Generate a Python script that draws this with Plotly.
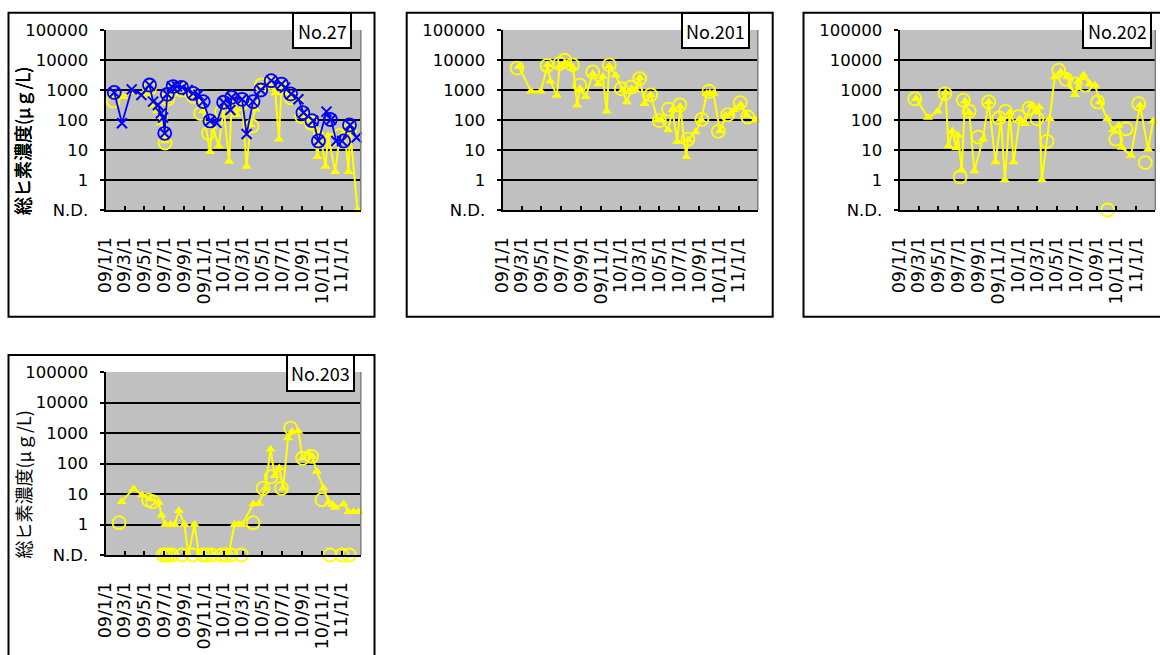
import plotly.graph_objects as go

W, H = 1160, 655
FONT = "Noto Sans CJK JP"
NUM_FONT = "DejaVu Sans"

# ---------------- data: total arsenic concentration (µg/L), N.D. plotted at 0.1 ----------------
# No.27 - yellow series (triangles joined by a line, circles on their own)
no27_tri_dates = ["2009-01-28", "2009-02-25", "2009-03-25", "2009-04-25", "2009-05-17", "2009-05-30",
                  "2009-06-10", "2009-06-22", "2009-07-04", "2009-07-12", "2009-07-25", "2009-08-10",
                  "2009-08-26", "2009-09-14", "2009-09-29", "2009-10-15", "2009-10-30", "2009-11-20",
                  "2009-11-27", "2009-12-17", "2010-01-01", "2010-01-18", "2010-01-26", "2010-02-10",
                  "2010-02-27", "2010-03-13", "2010-03-25", "2010-04-10", "2010-04-26", "2010-05-13",
                  "2010-05-28", "2010-06-10", "2010-06-21", "2010-06-29", "2010-07-15", "2010-07-29",
                  "2010-08-20", "2010-09-05", "2010-09-25", "2010-10-05", "2010-10-18", "2010-10-25",
                  "2010-11-12", "2010-11-20", "2010-12-12", "2010-12-25", "2011-01-10", "2011-01-22",
                  "2011-01-27", "2011-02-19"]
no27_tri_vals = [560, 600, 850, 650, 900, 300,
                 200, 80, 20, 450, 900, 1000,
                 900, 700, 600, 500, 200, 8.7,
                 60, 13.5, 250, 4.1, 400, 150,
                 400, 2.8, 70, 230, 1500, 1500,
                 1300, 800, 23, 1300, 800, 500,
                 500, 130, 100, 60, 6.0, 40,
                 2.8, 30, 1.9, 25, 40, 1.9,
                 45, 0.1]
no27_cir_dates = ["2009-01-25", "2009-05-17", "2009-07-04", "2009-07-12", "2009-07-28", "2009-08-24",
                  "2009-09-29", "2009-10-22", "2009-11-15", "2009-12-26", "2010-01-22", "2010-02-25",
                  "2010-03-30", "2010-04-28", "2010-05-28", "2010-06-25", "2010-07-27", "2010-08-30",
                  "2010-09-29", "2010-11-26", "2010-12-25", "2011-01-25"]
no27_cir_vals = [430, 1100, 17, 500, 1000, 1000,
                 620, 165, 36, 190, 400, 350,
                 63, 1470, 1600, 1200, 550, 130,
                 78, 21, 30, 45]
# No.27 - blue series (crosses joined by a line, circles on their own)
no27_x_dates = ["2009-01-28", "2009-02-21", "2009-03-23", "2009-04-22", "2009-05-17", "2009-05-28",
                "2009-06-12", "2009-06-21", "2009-06-28", "2009-07-03", "2009-07-11", "2009-07-25",
                "2009-08-10", "2009-08-26", "2009-09-12", "2009-09-29", "2009-10-15", "2009-10-30",
                "2009-11-20", "2009-12-10", "2010-01-01", "2010-01-22", "2010-01-26", "2010-02-27",
                "2010-03-13", "2010-04-02", "2010-04-26", "2010-05-28", "2010-06-29", "2010-07-10",
                "2010-07-29", "2010-08-20", "2010-09-05", "2010-10-05", "2010-10-21", "2010-11-15",
                "2010-11-29", "2010-12-15", "2011-01-02", "2011-01-27", "2011-02-16"]
no27_x_vals = [830, 78, 1050, 680, 1470, 410,
               316, 166, 120, 36, 720, 1300,
               1300, 1200, 1000, 770, 700, 410,
               93, 80, 390, 215, 570, 490,
               34, 410, 1000, 2050, 1580, 1200,
               740, 490, 175, 95, 20, 190,
               104, 20, 20, 68, 26]
no27_bcir_dates = ["2009-01-28", "2009-05-17", "2009-07-03", "2009-07-11", "2009-07-29", "2009-08-24",
                   "2009-09-29", "2009-10-30", "2009-11-20", "2010-01-01", "2010-01-26", "2010-02-27",
                   "2010-04-02", "2010-04-26", "2010-05-28", "2010-06-29", "2010-07-27", "2010-09-03",
                   "2010-10-01", "2010-10-21", "2010-11-27", "2011-01-07", "2011-01-25"]
no27_bcir_vals = [830, 1470, 36, 720, 1300, 1230,
                  770, 410, 93, 390, 570, 490,
                  410, 1000, 2050, 1580, 740, 175,
                  95, 20, 104, 20, 68]

# No.201
no201_tri_dates = ["2009-02-21", "2009-03-30", "2009-04-29", "2009-05-21", "2009-05-29", "2009-06-18",
                   "2009-06-27", "2009-07-12", "2009-07-27", "2009-08-07", "2009-08-20", "2009-08-28",
                   "2009-09-15", "2009-10-07", "2009-10-24", "2009-11-07", "2009-11-19", "2009-11-27",
                   "2009-12-17", "2010-01-07", "2010-01-20", "2010-02-04", "2010-02-16", "2010-03-01",
                   "2010-03-16", "2010-04-04", "2010-04-25", "2010-05-07", "2010-05-28", "2010-06-10",
                   "2010-06-25", "2010-07-04", "2010-07-23", "2010-07-28", "2010-08-21", "2010-09-07",
                   "2010-09-24", "2010-10-04", "2010-10-15", "2010-11-04", "2010-11-22", "2010-12-07",
                   "2010-12-19", "2011-01-07", "2011-01-26", "2011-02-22"]
no201_tri_vals = [5900, 900, 900, 6900, 1950, 660,
                  6300, 7900, 7100, 5600, 310, 1100,
                  590, 3500, 1600, 2800, 195, 6300,
                  3100, 1000, 400, 1100, 1000, 2500,
                  350, 700, 100, 100, 46, 220,
                  19, 280, 5.9, 22, 40, 100,
                  760, 800, 760, 43, 140, 160,
                  220, 320, 140, 100]
no201_cir_dates = ["2009-02-15", "2009-05-19", "2009-06-27", "2009-07-12", "2009-08-05", "2009-08-28",
                   "2009-10-07", "2009-11-27", "2010-01-03", "2010-02-03", "2010-03-01", "2010-04-04",
                   "2010-05-01", "2010-05-29", "2010-07-03", "2010-07-28", "2010-09-09", "2010-10-01",
                   "2010-10-30", "2010-11-28", "2011-01-06", "2011-01-29"]
no201_cir_vals = [5400, 6600, 7600, 9800, 6900, 1450,
                  4000, 6900, 1100, 1260, 2400, 690,
                  95, 230, 320, 23, 105, 910,
                  42, 150, 380, 126]

# No.202
no202_tri_dates = ["2009-02-21", "2009-03-30", "2009-04-29", "2009-05-23", "2009-06-01", "2009-06-13",
                   "2009-06-25", "2009-06-30", "2009-07-12", "2009-07-22", "2009-08-04", "2009-08-20",
                   "2009-09-15", "2009-10-03", "2009-10-24", "2009-11-10", "2009-11-22", "2009-12-07",
                   "2009-12-19", "2010-01-07", "2010-01-23", "2010-02-10", "2010-02-24", "2010-03-08",
                   "2010-03-16", "2010-04-09", "2010-04-25", "2010-05-13", "2010-06-02", "2010-06-26",
                   "2010-07-06", "2010-07-23", "2010-08-10", "2010-08-27", "2010-09-11", "2010-10-04",
                   "2010-10-22", "2010-11-08", "2010-11-18", "2010-12-16", "2011-01-13", "2011-02-07",
                   "2011-02-22"]
no202_tri_vals = [510, 120, 195, 810, 13.5, 42,
                  11.7, 31, 2.1, 430, 175, 2.0,
                  23, 400, 4.0, 110, 1.0, 175,
                  4.0, 110, 75, 310, 185, 270,
                  1.0, 110, 2700, 4000, 2700, 690,
                  1850, 3100, 1600, 1450, 400, 110,
                  46, 66, 12, 6.6, 310, 10.5,
                  91]
no202_cir_dates = ["2009-02-17", "2009-05-21", "2009-07-07", "2009-07-17", "2009-08-04", "2009-09-01",
                   "2009-10-03", "2009-11-04", "2009-11-24", "2010-01-03", "2010-02-05", "2010-03-01",
                   "2010-04-01", "2010-05-07", "2010-05-29", "2010-06-26", "2010-07-28", "2010-09-04",
                   "2010-10-05", "2010-10-30", "2010-12-01", "2011-01-09", "2011-01-29"]
no202_cir_vals = [510, 760, 1.26, 460, 195, 27,
                  400, 117, 195, 130, 250, 110,
                  19.5, 4600, 2300, 1600, 1450, 400,
                  0.1, 23, 51, 350, 3.8]

# No.203
no203_tri_dates = ["2009-02-20", "2009-03-29", "2009-04-24", "2009-05-17", "2009-06-15", "2009-06-23",
                   "2009-07-05", "2009-07-21", "2009-08-03", "2009-08-16", "2009-09-02", "2009-09-14",
                   "2009-10-03", "2009-10-17", "2009-11-05", "2009-12-01", "2010-01-01", "2010-01-16",
                   "2010-02-04", "2010-02-16", "2010-02-27", "2010-04-03", "2010-04-20", "2010-05-10",
                   "2010-05-26", "2010-06-08", "2010-06-22", "2010-07-04", "2010-07-19", "2010-08-01",
                   "2010-08-20", "2010-09-02", "2010-09-20", "2010-10-02", "2010-10-16", "2010-11-06",
                   "2010-11-22", "2010-12-03", "2010-12-12", "2011-01-07", "2011-01-22", "2011-02-07",
                   "2011-02-22"]
no203_tri_vals = [5.6, 15, 9.3, 6.8, 5.3, 2.0,
                  1.0, 1.0, 1.0, 2.8, 1.0, 0.1,
                  1.0, 0.1, 0.1, 0.1, 0.1, 0.1,
                  1.0, 1.0, 1.0, 4.7, 4.9, 15.5,
                  295, 40, 71, 15.5, 680, 1120,
                  1120, 150, 220, 170, 55, 15.5,
                  5.3, 4.4, 3.6, 4.7, 2.6, 2.6,
                  2.6]
no203_cir_dates = ["2009-02-12", "2009-05-14", "2009-05-27", "2009-06-28", "2009-07-06", "2009-07-15",
                   "2009-07-25", "2009-08-26", "2009-09-26", "2009-10-30", "2009-11-10", "2009-11-25",
                   "2009-12-26", "2010-01-08", "2010-01-24", "2010-02-25", "2010-04-02", "2010-05-03",
                   "2010-05-28", "2010-06-29", "2010-07-27", "2010-09-02", "2010-09-30", "2010-11-01",
                   "2010-11-26", "2011-01-02", "2011-01-24"]
no203_cir_vals = [1.15, 6.3, 5.6, 0.1, 0.1, 0.1,
                  0.1, 0.1, 0.1, 0.1, 0.1, 0.1,
                  0.1, 0.1, 0.1, 0.1, 1.15, 15.5,
                  37, 15.5, 1450, 148, 170, 6.5,
                  0.1, 0.1, 0.1]

# axis ticks
x_tickvals = ["2009-01-01", "2009-03-01", "2009-05-01", "2009-07-01", "2009-09-01", "2009-11-01",
              "2010-01-01", "2010-03-01", "2010-05-01", "2010-07-01", "2010-09-01", "2010-11-01",
              "2011-01-01", "2011-03-01"]
x_ticktext = ["09/1/1", "09/3/1", "09/5/1", "09/7/1", "09/9/1", "09/11/1",
              "10/1/1", "10/3/1", "10/5/1", "10/7/1", "10/9/1", "10/11/1",
              "11/1/1", ""]
y_tickvals = [0.1, 1, 10, 100, 1000, 10000, 100000]
y_ticktext = ["N.D.", "1", "10", "100", "1000", "10000", "100000"]
y_title = "総ヒ素濃度(μｇ/L)"

panel_names = ["No.27", "No.201", "No.202", "No.203"]

# ---------------- layout geometry (pixels) ----------------
# plot area: x0, x1, ytop, ybottom
plot_px = [(105.5, 360.8, 30, 210), (502.5, 757.8, 30, 210),
           (899.5, 1155.3, 30, 210), (105.5, 360.8, 372, 555)]
# outer frame of each chart
frame_px = [(8.5, 374.5, 12.7, 316.7), (406.7, 772.7, 12.7, 316.7),
            (803.5, 1175, 12.7, 316.7), (8.5, 374.5, 355, 670)]
# name box
box_px = [(293, 351, 13, 48), (682, 749, 13, 48), (1083, 1151, 13, 48), (287, 354, 355, 391)]

YELLOW = "#FFFF00"
BLUE = "#0000FF"


def px_x(v):
    return v / W


def px_y(v):
    return 1 - v / H


fig = go.Figure()


def tri_line(dates, vals, ax):
    return go.Scatter(x=dates, y=vals, mode="lines+markers", xaxis=ax[0], yaxis=ax[1],
                      line=dict(color=YELLOW, width=2),
                      marker=dict(symbol="triangle-up", size=9, color=YELLOW),
                      cliponaxis=False, showlegend=False, hoverinfo="x+y")


def circles(dates, vals, ax, color):
    return go.Scatter(x=dates, y=vals, mode="markers", xaxis=ax[0], yaxis=ax[1],
                      marker=dict(symbol="circle-open", size=13, color=color,
                                  line=dict(color=color, width=1.8)),
                      cliponaxis=False, showlegend=False, hoverinfo="x+y")


axes = [("x", "y"), ("x2", "y2"), ("x3", "y3"), ("x4", "y4")]

# No.27
fig.add_trace(circles(no27_cir_dates, no27_cir_vals, axes[0], YELLOW))
fig.add_trace(tri_line(no27_tri_dates, no27_tri_vals, axes[0]))
fig.add_trace(circles(no27_bcir_dates, no27_bcir_vals, axes[0], BLUE))
fig.add_trace(go.Scatter(x=no27_x_dates, y=no27_x_vals, mode="lines+markers",
                         xaxis="x", yaxis="y", line=dict(color=BLUE, width=1.8),
                         marker=dict(symbol="x-thin-open", size=10, color=BLUE,
                                     line=dict(color=BLUE, width=2)),
                         cliponaxis=False, showlegend=False, hoverinfo="x+y"))
# No.201 / No.202 / No.203
for ax, (td, tv, cd, cv) in zip(axes[1:], [
        (no201_tri_dates, no201_tri_vals, no201_cir_dates, no201_cir_vals),
        (no202_tri_dates, no202_tri_vals, no202_cir_dates, no202_cir_vals),
        (no203_tri_dates, no203_tri_vals, no203_cir_dates, no203_cir_vals)]):
    fig.add_trace(tri_line(td, tv, ax))
    fig.add_trace(circles(cd, cv, ax, YELLOW))

layout = dict(width=W, height=H, autosize=False,
              margin=dict(l=0, r=0, t=0, b=0, pad=0, autoexpand=False),
              paper_bgcolor="white", plot_bgcolor="#C0C0C0", showlegend=False,
              font=dict(family=FONT, color="black"))

shapes = []
annotations = []
for i, (x0, x1, yt, yb) in enumerate(plot_px):
    sfx = "" if i == 0 else str(i + 1)
    layout["xaxis" + sfx] = dict(
        domain=[px_x(x0), px_x(x1)], anchor="y" + sfx, type="date", automargin=False,
        range=["2009-01-01", "2011-03-01"], tickvals=x_tickvals, ticktext=x_ticktext,
        tickangle=-90, ticks="inside", ticklen=4, tickwidth=1.5, tickcolor="black",
        showline=True, linecolor="black", linewidth=2, showgrid=False, zeroline=False,
        tickfont=dict(family=NUM_FONT, size=17.5, color="black"), ticklabelstandoff=18)
    layout["yaxis" + sfx] = dict(
        domain=[px_y(yb), px_y(yt)], anchor="x" + sfx, type="log", range=[-1, 5],
        automargin=False,
        tickvals=y_tickvals, ticktext=y_ticktext, ticks="outside", ticklen=4,
        tickwidth=1.5, tickcolor="black", showline=True, linecolor="black", linewidth=2,
        showgrid=True, gridcolor="black", gridwidth=2, zeroline=False,
        tickfont=dict(family=NUM_FONT, size=16.5, color="black"), ticklabelstandoff=8)
    # right edge of plot area
    shapes.append(dict(type="line", xref="paper", yref="paper",
                       x0=px_x(x1), x1=px_x(x1), y0=px_y(yb), y1=px_y(yt),
                       line=dict(color="#808080", width=1.5), layer="above"))
    # outer frame
    fx0, fx1, fy0, fy1 = frame_px[i]
    shapes.append(dict(type="rect", xref="paper", yref="paper",
                       x0=px_x(fx0), x1=px_x(fx1), y0=px_y(fy1), y1=px_y(fy0),
                       line=dict(color="black", width=2), fillcolor="rgba(0,0,0,0)",
                       layer="above"))
    # name box
    bx0, bx1, by0, by1 = box_px[i]
    shapes.append(dict(type="rect", xref="paper", yref="paper",
                       x0=px_x(bx0), x1=px_x(bx1), y0=px_y(by1), y1=px_y(by0),
                       line=dict(color="black", width=2), fillcolor="white", layer="above"))
    annotations.append(dict(xref="paper", yref="paper", x=px_x((bx0 + bx1) / 2),
                            y=px_y((by0 + by1) / 2), text=panel_names[i], showarrow=False,
                            xanchor="center", yanchor="middle",
                            font=dict(family=FONT, size=18, color="black")))
    # y-axis title
    annotations.append(dict(xref="paper", yref="paper", x=px_x(22), y=px_y((yt + yb) / 2 + 21),
                            text=y_title, textangle=-90, showarrow=False,
                            xanchor="center", yanchor="middle",
                            font=dict(family=FONT, size=18, color="black")))

layout["shapes"] = shapes
layout["annotations"] = annotations
fig.update_layout(**layout)
fig.write_html("out.html")
